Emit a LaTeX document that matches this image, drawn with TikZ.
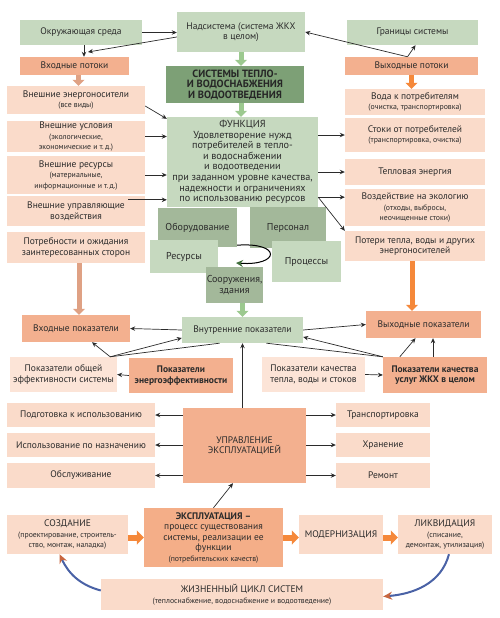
\documentclass[tikz,border=0pt]{standalone}
\usepackage{fontspec}
\setmainfont{PT Sans}
\usetikzlibrary{arrows.meta, positioning}

\definecolor{txt}{HTML}{2B2B2B}
\definecolor{lgreen}{HTML}{C6D9BF}
\definecolor{mgreen}{HTML}{A3B89A}
\definecolor{dgreen}{HTML}{7DA076}
\definecolor{agreen}{HTML}{9CC98F}
\definecolor{tipgreen}{HTML}{3F6E3B}
\definecolor{salmon}{HTML}{F3B08F}
\definecolor{pinkbg}{HTML}{FADBCA}
\definecolor{lpink}{HTML}{FCE4D7}
\definecolor{aorange}{HTML}{F5883A}
\definecolor{asalmon}{HTML}{DFA184}
\definecolor{cycblue}{HTML}{4A62A6}
\definecolor{tipbrown}{HTML}{C8663F}

\newcommand{\smalltxt}[1]{{\fontsize{7.8}{9}\selectfont #1}}

\begin{document}
\begin{tikzpicture}[x=1pt, y=-1pt,
        box/.style={rectangle, inner sep=0.5pt, align=center, text=txt, font=\fontsize{9.5}{10.5}\selectfont},
        gbox/.style={box, fill=lgreen},
        mbox/.style={box, fill=mgreen},
        sbox/.style={box, fill=salmon},
        pbox/.style={box, fill=pinkbg},
        lbox/.style={box, fill=lpink},
        size/.style 2 args={minimum width=#1, minimum height=#2},
        arr/.style={-{Stealth[length=5pt, width=4.5pt]}, line width=0.7pt, draw=txt},
        plain/.style={line width=0.7pt, draw=txt},
        fatgreen/.style={-{Triangle[length=6pt, width=12pt]}, line width=5pt, draw=agreen},
        fatorange/.style={-{Triangle[length=6pt, width=12pt]}, line width=5pt, draw=aorange},
        fatsalmon/.style={-{Triangle[length=6pt, width=12pt]}, line width=5pt, draw=asalmon},
        chevron/.style={-{Triangle[length=7pt, width=14pt]}, line width=6pt, draw=aorange},
        cycle/.style={-{Stealth[length=9pt, width=8pt, color=tipbrown]}, line width=2pt, draw=cycblue}
    ]
        \useasboundingbox (0,0) rectangle (500,618);

        % Top row
        \node[gbox, size={122}{25}] (okr) at (81,32.5) {Окружающая среда};
        \node[gbox, size={128}{40}] (nad) at (241,32) {Надсистема (система ЖКХ\\в целом)};
        \node[gbox, size={131}{25}] (gran) at (412.5,32.5) {Границы системы};
        \node[sbox, size={109}{18}] (vhpot) at (74.5,66) {Входные потоки};
        \node[sbox, size={133}{18}] (vyhpot) at (411.5,66) {Выходные потоки};
        \node[box, fill=dgreen, size={138}{37}, font=\fontsize{10.5}{10.5}\selectfont\bfseries, text=black!85] (sys) at (235,84.5)
            {СИСТЕМЫ ТЕПЛО-\\И ВОДОСНАБЖЕНИЯ\\И ВОДООТВЕДЕНИЯ};

        % Input flows
        \node[pbox, size={138}{28}] (energo) at (76,100) {Внешние энергоносители\\\smalltxt{(все виды)}};
        \node[pbox, size={138}{29}] (usl) at (76,136.5) {Внешние условия\\\smalltxt{(экологические,}\\\smalltxt{экономические и т.\,д.)}};
        \node[pbox, size={138}{38}] (res) at (76,175) {Внешние ресурсы\\\smalltxt{(материальные,}\\\smalltxt{информационные и т.\,д.)}};
        \node[pbox, size={138}{30}] (upr) at (76,211) {Внешние управляющие\\воздействия};
        \node[pbox, size={138}{31}] (potr) at (76,247.5) {Потребности и ожидания\\заинтересованных сторон};

        % Output flows
        \node[pbox, size={140}{26}] (vod) at (415,102) {Вода к потребителям\\\smalltxt{(очистка, транспортировка)}};
        \node[pbox, size={140}{34}] (stok) at (415,135) {Стоки от потребителей\\\smalltxt{(транспортировка, очистка)}};
        \node[pbox, size={140}{26}] (tepl) at (415,172) {Тепловая энергия};
        \node[pbox, size={140}{37}] (vozd) at (415,207.5) {Воздействие на экологию\\\smalltxt{(отходы, выбросы,}\\\smalltxt{неочищенные стоки)}};
        \node[pbox, size={140}{30}] (pot) at (415,246) {Потери тепла, воды и других\\энергоносителей};

        % Function and its parts
        \node[gbox, size={151}{90}, font=\fontsize{10.2}{10.6}\selectfont] (func) at (242.5,162)
            {ФУНКЦИЯ\\Удовлетворение нужд\\потребителей в тепло-\\и водоснабжении\\и водоотведении\\при заданном уровне качества,\\надежности и ограничениях\\по использованию ресурсов};
        \node[mbox, size={79}{39}, font=\fontsize{10}{11}\selectfont] (obor) at (197.5,227.5) {Оборудование};
        \node[mbox, size={76}{41}, font=\fontsize{10}{11}\selectfont] (pers) at (288,227.5) {Персонал};
        \node[gbox, size={68}{33}, font=\fontsize{10}{11}\selectfont] (resur) at (184,256.5) {Ресурсы};
        \node[gbox, size={69}{41}, font=\fontsize{10}{11}\selectfont] (proc) at (306.5,261.5) {Процессы};
        \node[mbox, size={55}{36}, font=\fontsize{10}{11}\selectfont] (soor) at (234.5,285) {Сооружения,\\здания};
        \coordinate (cycend) at (236,263);

        % Indicators
        \node[gbox, size={121}{26}] (vn) at (242.5,330) {Внутренние показатели};
        \node[sbox, size={108}{27}] (vhpok) at (76,328.5) {Входные показатели};
        \node[sbox, size={115}{27}] (vyhpok) at (423.5,324.5) {Выходные показатели};
        \node[lbox, size={107}{35}] (obsh) at (63.5,374.5) {Показатели общей\\эффективности системы};
        \node[sbox, size={104}{35}, font=\fontsize{9.5}{10.5}\selectfont\bfseries] (energef) at (181,375.5) {Показатели\\энергоэффективности};
        \node[lbox, size={103}{35}] (kach) at (313.5,374.5) {Показатели качества\\тепла, воды и стоков};
        \node[sbox, size={104}{36}, font=\fontsize{9.5}{10.5}\selectfont\bfseries] (zhkh) at (435,375) {Показатели качества\\услуг ЖКХ в целом};

        % Operation management
        \node[sbox, size={123}{75}] (uprexp) at (244.5,445.5) {УПРАВЛЕНИЕ\\ЭКСПЛУАТАЦИЕЙ};
        \node[pbox, size={148}{24}] (podg) at (81,415) {Подготовка к использованию};
        \node[pbox, size={148}{24}] (isp) at (81,445) {Использование по назначению};
        \node[pbox, size={148}{25}] (obsl) at (81,475.5) {Обслуживание};
        \node[pbox, size={94}{24}] (transp) at (383,415) {Транспортировка};
        \node[pbox, size={94}{24}] (hran) at (383,445) {Хранение};
        \node[pbox, size={94}{25}] (rem) at (383,475.5) {Ремонт};

        % Life cycle
        \node[pbox, size={121}{39}] (sozd) at (67.5,534.5) {СОЗДАНИЕ\\\smalltxt{(проектирование, строитель-}\\\smalltxt{ство, монтаж, наладка)}};
        \node[box, fill=salmon!95!orange, size={139}{59}] (expl) at (213.5,537.5)
            {\textbf{ЭКСПЛУАТАЦИЯ –}\\процесс существования\\системы, реализации ее\\функции\\\smalltxt{(потребительских качеств)}};
        \node[pbox, size={84}{39}] (mod) at (341,534.5) {МОДЕРНИЗАЦИЯ};
        \node[pbox, size={94}{39}] (likv) at (445,534.5) {ЛИКВИДАЦИЯ\\\smalltxt{(списание,}\\\smalltxt{демонтаж, утилизация)}};
        \node[pbox, size={282}{31}] (zhc) at (242,594.5) {ЖИЗНЕННЫЙ ЦИКЛ СИСТЕМ\\\smalltxt{(теплоснабжение, водоснабжение и водоотведение)}};

        % Connectors, top
        \draw[arr] (okr.east) -- (nad.west |- okr.east);
        \coordinate (vhin) at (88,52);
        \draw[arr] ([yshift=-5pt]nad.west) -- (vhin);
        \draw[arr] ([xshift=3pt]okr.south) -- ([xshift=3pt]okr.south |- vhpot.north);
        \draw[arr] ([xshift=-4pt]vyhpot.north) -- (nad.east);
        \draw[arr] ([xshift=-4pt]vyhpot.north) -- ([xshift=3pt]gran.south);
        \draw[fatgreen] (nad.south) -- (nad.south |- sys.north);
        \draw[fatgreen] (nad.south |- sys.south) -- (nad.south |- func.north);
        \draw[fatsalmon] ([xshift=4pt]vhpot.south) -- ([xshift=4pt]vhpot.south |- energo.north);
        \draw[fatorange] (vyhpot.south) -- (vyhpot.south |- vod.north);

        % Into and out of the function
        \coordinate (uprout) at ([xshift=-17pt, yshift=-4pt]upr.north east);
        \draw[arr] ([yshift=-6pt]energo.east) -- ([yshift=-2pt]func.north west);
        \draw[arr] (usl.east) -- (func.west |- usl.east);
        \draw[arr] (res.east) -- (func.west |- res.east);
        \draw[arr] (uprout) -- (func.west |- uprout);
        \coordinate (fout) at ([yshift=10pt]func.south east);
        \draw[arr] (func.east |- stok.west) -- (stok.west);
        \draw[arr] (func.east |- tepl.west) -- (tepl.west);
        \draw[arr] (fout) -- (vozd.west |- fout);
        \draw[arr] (fout) -- (pot.north west);
        \draw[line width=1pt, -{Stealth[length=7pt, width=7pt, color=tipgreen]}]
            ([yshift=2pt]obor.south east) .. controls (282,242) and (280,266) .. (cycend);

        % Indicators
        \draw[fatgreen] (vn.north |- soor.south) -- (vn.north);
        \draw[fatsalmon] ([xshift=3pt]potr.south) -- ([xshift=3pt]potr.south |- vhpok.north);
        \draw[fatorange] ([xshift=-3pt]pot.south) -- ([xshift=-3pt]pot.south |- vyhpok.north);
        \draw[arr] (vn.west) -- (vhpok.east);
        \draw[arr] (vn.east) -- (vyhpok.west);
        \coordinate (obshtop) at ([xshift=-7pt]obsh.north east);
        \draw[arr] (obshtop) -- ([xshift=16pt]vhpok.south);
        \draw[arr] (obshtop) -- ([yshift=-8pt]vn.west);
        \draw[plain] (obshtop) -- ([xshift=-23pt]vn.south);
        \draw[arr] (energef.west) -- (obsh.east);
        \draw[arr] (zhkh.north west) -- ([yshift=-7pt]vn.east);
        \draw[plain] (zhkh.north west) -- ([xshift=24pt]vn.south);
        \draw[arr] ([xshift=17pt]zhkh.north west) -- ([xshift=-8pt]vyhpok.south);
        \draw[arr] ([xshift=-2pt]zhkh.north) -- ([xshift=9.5pt]vyhpok.south);
        \draw[arr] (kach.east) -- (zhkh.west);

        % Management
        \draw[arr] (uprexp.north -| vn.south) -- (vn.south);
        \draw[arr] (uprexp.west |- podg.east) -- (podg.east);
        \draw[arr] (uprexp.west |- isp.east) -- (isp.east);
        \draw[arr] (uprexp.west |- obsl.east) -- (obsl.east);
        \draw[arr] (uprexp.east |- transp.west) -- (transp.west);
        \draw[arr] (uprexp.east |- hran.west) -- (hran.west);
        \draw[arr] (uprexp.east |- rem.west) -- (rem.west);
        \draw[arr] (expl.north) -- ([xshift=-11.5pt]uprexp.south);

        % Life cycle
        \draw[chevron] ([yshift=-3pt]sozd.east) -- ([yshift=-3pt]expl.west |- sozd.east);
        \draw[chevron] ([yshift=-3pt]expl.east |- mod.west) -- ([yshift=-3pt]mod.west);
        \draw[chevron] ([yshift=-3pt]mod.east) -- ([yshift=-3pt]likv.west);
        \draw[cycle] ([yshift=4pt]zhc.west) to[out=165, in=-65] ([xshift=-8pt]sozd.south);
        \draw[cycle] ([xshift=4pt]likv.south) to[out=-105, in=5] ([yshift=-2pt]zhc.east);
    \end{tikzpicture}
\end{document}
